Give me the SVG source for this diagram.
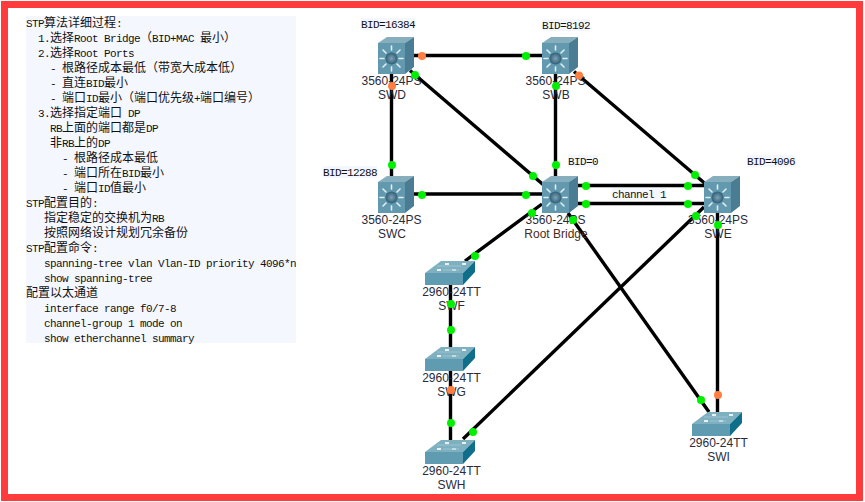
<svg xmlns="http://www.w3.org/2000/svg" xmlns:xlink="http://www.w3.org/1999/xlink" width="865" height="502" viewBox="0 0 865 502">
<style>
.t{font-family:"Noto Sans CJK SC",sans-serif;font-size:12px;fill:#111}
.m{font-family:"Liberation Mono",monospace;font-size:11px;letter-spacing:-0.6px;fill:#111}
.l{font-family:"Liberation Sans",Arial,sans-serif;font-size:12px;fill:#2a2a3a;text-anchor:middle}
.c line{stroke:#000;stroke-width:3.4;stroke-linecap:butt}
.g{fill:#00f000}
.o{fill:#ff7f40}
.bg{fill:#f5f7ff}
</style>
<defs>
<radialGradient id="hub"><stop offset="0" stop-color="#7fa2b4"/><stop offset="1" stop-color="#2f5f78"/></radialGradient>
<symbol id="ml" width="36" height="37" viewBox="0 0 36 37" overflow="visible">
<path d="M0 6L9 0H36L27 6Z" fill="#86aebd"/>
<path d="M27 6L36 0V30L27 37Z" fill="#4a7c93"/>
<rect x="0" y="6" width="27" height="31" fill="#6299ae"/>
<g stroke="#dfeef3" stroke-width="1.6" stroke-linecap="round">
<line x1="13.5" y1="9" x2="13.5" y2="13"/><line x1="13.5" y1="30" x2="13.5" y2="34"/>
<line x1="2" y1="21.500" x2="6" y2="21.500"/><line x1="21" y1="21.500" x2="25" y2="21.500"/>
<line x1="5" y1="13" x2="8" y2="16"/><line x1="22" y1="13" x2="19" y2="16"/>
<line x1="5" y1="30" x2="8" y2="27"/><line x1="22" y1="30" x2="19" y2="27"/>
</g>
<circle cx="13.500" cy="21.500" r="6" fill="url(#hub)"/>
</symbol>
<symbol id="l2" width="50" height="24" viewBox="0 0 50 24" overflow="visible">
<path d="M0 12L16 0H50L38 12Z" fill="#7fb0c0"/>
<path d="M38 12L50 0V11L38 24Z" fill="#0f6f8a"/>
<rect x="0" y="12" width="38" height="12" fill="#5f9cb2"/>
<g fill="#e8f2f5"><rect x="12" y="8" width="4" height="2"/><rect x="27" y="8" width="4" height="2"/><rect x="20" y="2" width="4" height="2"/><rect x="37" y="2" width="4" height="2"/></g>
<path d="M12 5H36M18 9H34" stroke="#9cc4d0" stroke-width="1" fill="none"/>
</symbol>
</defs>
<rect width="865" height="502" fill="#fff"/>
<rect x="4.500" y="4.500" width="855" height="493" fill="none" stroke="#ff3b3b" stroke-width="7"/>
<g id="notes">
<rect class="bg" x="26" y="16" width="270" height="327"/>
<text class="t" x="26" y="27"><tspan class="m">STP</tspan>算法详细过程<tspan class="m">:</tspan></text>
<text class="t" x="38" y="42"><tspan class="m">1.</tspan>选择<tspan class="m">Root Bridge</tspan>（<tspan class="m">BID+MAC </tspan>最小）</text>
<text class="t" x="38" y="57"><tspan class="m">2.</tspan>选择<tspan class="m">Root Ports</tspan></text>
<text class="t" x="50" y="72"><tspan class="m">- </tspan>根路径成本最低（带宽大成本低）</text>
<text class="t" x="50" y="87"><tspan class="m">- </tspan>直连<tspan class="m">BID</tspan>最小</text>
<text class="t" x="50" y="102"><tspan class="m">- </tspan>端口<tspan class="m">ID</tspan>最小（端口优先级<tspan class="m">+</tspan>端口编号）</text>
<text class="t" x="38" y="117"><tspan class="m">3.</tspan>选择指定端口<tspan class="m"> DP</tspan></text>
<text class="t" x="50" y="132"><tspan class="m">RB</tspan>上面的端口都是<tspan class="m">DP</tspan></text>
<text class="t" x="50" y="147">非<tspan class="m">RB</tspan>上的<tspan class="m">DP</tspan></text>
<text class="t" x="62" y="162"><tspan class="m">- </tspan>根路径成本最低</text>
<text class="t" x="62" y="177"><tspan class="m">- </tspan>端口所在<tspan class="m">BID</tspan>最小</text>
<text class="t" x="62" y="192"><tspan class="m">- </tspan>端口<tspan class="m">ID</tspan>值最小</text>
<text class="t" x="26" y="207"><tspan class="m">STP</tspan>配置目的<tspan class="m">:</tspan></text>
<text class="t" x="44" y="222">指定稳定的交换机为<tspan class="m">RB</tspan></text>
<text class="t" x="44" y="237">按照网络设计规划冗余备份</text>
<text class="t" x="26" y="252"><tspan class="m">STP</tspan>配置命令<tspan class="m">:</tspan></text>
<text class="m" x="44" y="267">spanning-tree vlan Vlan-ID priority 4096*n</text>
<text class="m" x="44" y="282">show spanning-tree</text>
<text class="t" x="26" y="297">配置以太通道</text>
<text class="m" x="44" y="312">interface range f0/7-8</text>
<text class="m" x="44" y="327">channel-group 1 mode on</text>
<text class="m" x="44" y="342">show etherchannel summary</text>
</g>
<g id="connectors" class="c">
<line x1="414" y1="55.500" x2="542" y2="55.500"/>
<line x1="391.500" y1="74" x2="391.500" y2="176"/>
<line x1="555.500" y1="74" x2="555.500" y2="176"/>
<line x1="414" y1="194" x2="542" y2="194"/>
<line x1="410" y1="70.500" x2="543" y2="184.500"/>
<line x1="574" y1="71.500" x2="705" y2="183.500"/>
<line x1="578" y1="185.500" x2="704" y2="185.500"/>
<line x1="578" y1="203.500" x2="704" y2="203.500"/>
<line x1="542" y1="204" x2="465" y2="261"/>
<line x1="568" y1="213" x2="709" y2="412"/>
<line x1="704" y1="207" x2="463" y2="439"/>
<line x1="717.500" y1="213" x2="717.500" y2="412"/>
<line x1="450.500" y1="285" x2="450.500" y2="347"/>
<line x1="450.500" y1="371" x2="450.500" y2="440"/>
</g>
<g id="SWD"><use xlink:href="#ml" href="#ml" x="378" y="37" width="36" height="37"/><text class="l" x="391.500" y="85">3560-24PS</text><text class="l" x="392" y="99">SWD</text></g>
<g id="SWB"><use xlink:href="#ml" href="#ml" x="542" y="37" width="36" height="37"/><text class="l" x="555.500" y="85">3560-24PS</text><text class="l" x="556" y="99">SWB</text></g>
<g id="SWC"><use xlink:href="#ml" href="#ml" x="378" y="176" width="36" height="37"/><text class="l" x="391.500" y="224">3560-24PS</text><text class="l" x="392" y="238">SWC</text></g>
<g id="ROOT"><use xlink:href="#ml" href="#ml" x="542" y="176" width="36" height="37"/><text class="l" x="555.500" y="224">3560-24PS</text><text class="l" x="556" y="238" style="fill:#4a2a20">Root Bridge</text></g>
<g id="SWE"><use xlink:href="#ml" href="#ml" x="704" y="176" width="36" height="37"/><text class="l" x="718" y="224">3560-24PS</text><text class="l" x="718" y="238">SWE</text></g>
<g id="SWF"><use xlink:href="#l2" href="#l2" x="425" y="261" width="50" height="24"/><text class="l" x="451.500" y="296">2960-24TT</text><text class="l" x="451.500" y="310">SWF</text></g>
<g id="SWG"><use xlink:href="#l2" href="#l2" x="425" y="347" width="50" height="24"/><text class="l" x="451.500" y="382">2960-24TT</text><text class="l" x="451.500" y="396">SWG</text></g>
<g id="SWH"><use xlink:href="#l2" href="#l2" x="425" y="440" width="50" height="24"/><text class="l" x="451.500" y="475">2960-24TT</text><text class="l" x="451.500" y="489">SWH</text></g>
<g id="SWI"><use xlink:href="#l2" href="#l2" x="692" y="412" width="50" height="24"/><text class="l" x="718.500" y="447">2960-24TT</text><text class="l" x="718.500" y="461">SWI</text></g>
<g id="labels">
<rect class="bg" x="361" y="18" width="54" height="12"/><text class="m" x="361" y="28">BID=16384</text>
<rect class="bg" x="542" y="19" width="48" height="12"/><text class="m" x="542" y="29">BID=8192</text>
<rect class="bg" x="323" y="166" width="54" height="12"/><text class="m" x="323" y="176">BID=12288</text>
<rect class="bg" x="568" y="155" width="30" height="12"/><text class="m" x="568" y="165">BID=0</text>
<rect class="bg" x="747" y="155" width="48" height="12"/><text class="m" x="747" y="165">BID=4096</text>
<rect class="bg" x="612" y="188" width="54" height="12"/><text class="m" x="612" y="198">channel 1</text>
</g>
<g id="ports">
<circle class="o" cx="422" cy="56" r="4"/><circle class="o" cx="392" cy="86" r="4"/><circle class="o" cx="579" cy="75.500" r="4"/><circle class="o" cx="451" cy="390" r="4"/><circle class="o" cx="718" cy="395" r="4"/>
<circle class="g" cx="526" cy="56" r="4"/><circle class="g" cx="415" cy="75" r="4"/><circle class="g" cx="392" cy="165" r="4"/><circle class="g" cx="556" cy="86" r="4"/><circle class="g" cx="556" cy="165" r="4"/><circle class="g" cx="533" cy="176" r="4"/><circle class="g" cx="422" cy="195" r="4"/><circle class="g" cx="526" cy="195" r="4"/><circle class="g" cx="532" cy="213" r="4"/><circle class="g" cx="573" cy="220" r="4"/><circle class="g" cx="586" cy="186" r="4"/><circle class="g" cx="586" cy="204" r="4"/><circle class="g" cx="688" cy="186" r="4"/><circle class="g" cx="688" cy="204" r="4"/><circle class="g" cx="695" cy="175" r="4"/><circle class="g" cx="696" cy="216" r="4"/><circle class="g" cx="718" cy="225" r="4"/><circle class="g" cx="475" cy="256" r="4"/><circle class="g" cx="451" cy="304" r="4"/><circle class="g" cx="451" cy="330" r="4"/><circle class="g" cx="451" cy="423" r="4"/><circle class="g" cx="473" cy="432" r="4"/><circle class="g" cx="701" cy="400" r="4"/>
</g>
</svg>
